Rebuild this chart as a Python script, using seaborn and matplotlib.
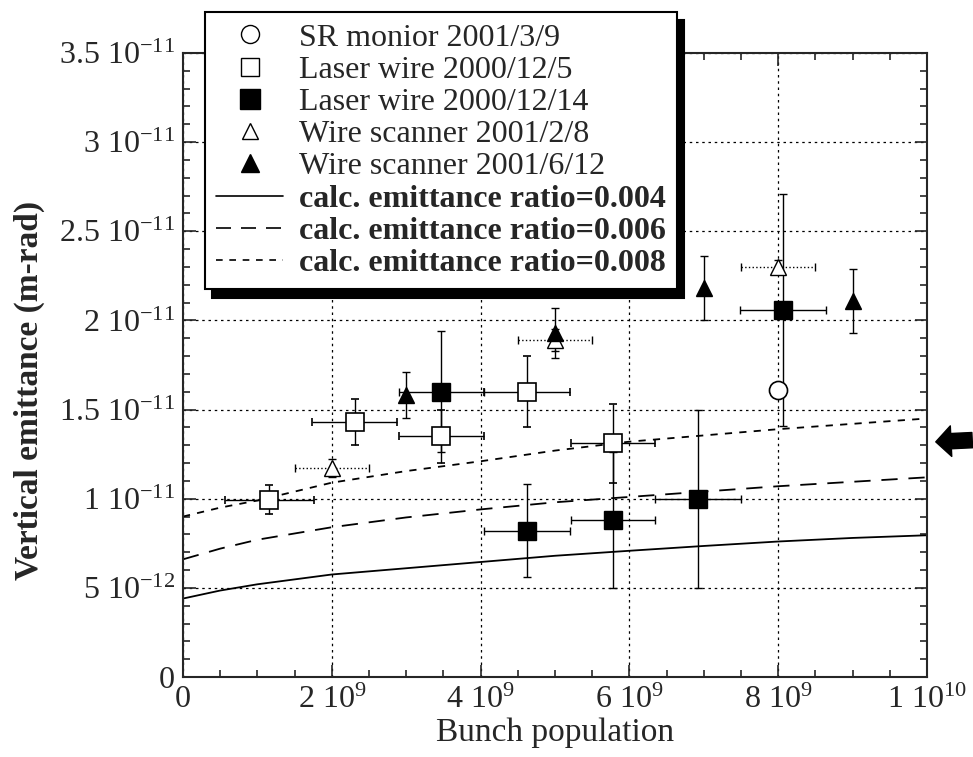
import numpy as np
import matplotlib
matplotlib.use('Agg')
import matplotlib.pyplot as plt
import seaborn as sns
import pandas as pd
from matplotlib.lines import Line2D
from matplotlib.ticker import MultipleLocator

# data (x in 1e9, y in 1e-12)
sr_x = [8.0]
sr_y = [16.1]

lw5_x = [1.16, 2.31, 3.47, 4.62, 5.78]
lw5_y = [9.95, 14.3, 13.5, 16.0, 13.1]
lw5_xerr = [0.6, 0.57, 0.57, 0.58, 0.57]
lw5_yerr = [0.8, 1.3, 1.5, 2.0, 2.2]

lw14_x = [3.47, 4.62, 5.78, 6.92, 8.06]
lw14_y = [16.0, 8.2, 8.8, 10.0, 20.6]
lw14_xerr = [0.57, 0.58, 0.57, 0.58, 0.58]
lw14_yerr = [3.4, 2.6, 3.8, 5.0, 6.5]

ws8_x = [2.0, 5.0, 8.0]
ws8_y = [11.7, 18.9, 23.0]
ws8_xerr = [0.5, 0.5, 0.5]
ws8_yerr = [0.5, 0.6, 0.4]

ws12_x = [3.0, 5.0, 7.0, 9.0]
ws12_y = [15.8, 19.3, 21.8, 21.1]
ws12_yerr = [1.3, 1.4, 1.8, 1.8]

calc_x = [0, 0.5, 1, 2, 3, 4, 5, 6, 7, 8, 9, 10]
calc_004 = [4.4, 4.85, 5.2, 5.75, 6.1, 6.45, 6.8, 7.08, 7.35, 7.6, 7.8, 7.95]
calc_006 = [6.6, 7.2, 7.7, 8.4, 8.95, 9.4, 9.8, 10.1, 10.4, 10.7, 10.95, 11.2]
calc_008 = [9.0, 9.5, 9.9, 10.9, 11.55, 12.1, 12.7, 13.2, 13.55, 13.9, 14.2, 14.5]

x_ticks = [0, 2e9, 4e9, 6e9, 8e9, 1e10]
x_labels = ['0', '2 10$^{9}$', '4 10$^{9}$', '6 10$^{9}$', '8 10$^{9}$', '1 10$^{10}$']
y_ticks = [0, 5e-12, 1e-11, 1.5e-11, 2e-11, 2.5e-11, 3e-11, 3.5e-11]
y_labels = ['0', '5 10$^{-12}$', '1 10$^{-11}$', '1.5 10$^{-11}$', '2 10$^{-11}$',
            '2.5 10$^{-11}$', '3 10$^{-11}$', '3.5 10$^{-11}$']

legend_labels = ['SR monior 2001/3/9', 'Laser wire 2000/12/5', 'Laser wire 2000/12/14',
                 'Wire scanner 2001/2/8', 'Wire scanner 2001/6/12',
                 'calc. emittance ratio=0.004', 'calc. emittance ratio=0.006',
                 'calc. emittance ratio=0.008']

sns.set_style('ticks')
plt.rcParams['font.family'] = ['Liberation Serif', 'DejaVu Serif']
plt.rcParams['mathtext.fontset'] = 'custom'
plt.rcParams['mathtext.rm'] = 'Liberation Serif'
plt.rcParams['mathtext.it'] = 'Liberation Serif'

fig = plt.figure(figsize=(9.73, 7.57), dpi=100)
ax = fig.add_axes([183 / 973, 1 - 677 / 757, (927 - 183) / 973, (677 - 53) / 757])

def sc(v, f):
    return np.array(v) * f

# calc curves
calc = pd.DataFrame({'x': sc(calc_x, 1e9), 'a': sc(calc_004, 1e-12),
                     'b': sc(calc_006, 1e-12), 'c': sc(calc_008, 1e-12)})
sns.lineplot(data=calc, x='x', y='a', ax=ax, color='black', lw=1.3)
sns.lineplot(data=calc, x='x', y='b', ax=ax, color='black', lw=1.3, linestyle=(0, (9, 6)))
sns.lineplot(data=calc, x='x', y='c', ax=ax, color='black', lw=1.3, linestyle=(0, (4, 4)))

eb = dict(ecolor='black', elinewidth=1.0, capsize=3, capthick=1.0, linestyle='none')

# wire scanner 2001/2/8 (dotted bars)
e = ax.errorbar(sc(ws8_x, 1e9), sc(ws8_y, 1e-12), xerr=sc(ws8_xerr, 1e9), yerr=sc(ws8_yerr, 1e-12),
                marker='^', ms=12, mfc='white', mec='black', mew=1.0, **eb)
for b in e[2]:
    b.set_linestyle(':')

ax.errorbar(sc(lw5_x, 1e9), sc(lw5_y, 1e-12), xerr=sc(lw5_xerr, 1e9), yerr=sc(lw5_yerr, 1e-12),
            marker='s', ms=13, mfc='white', mec='black', mew=1.2, **eb)
ax.errorbar(sc(lw14_x, 1e9), sc(lw14_y, 1e-12), xerr=sc(lw14_xerr, 1e9), yerr=sc(lw14_yerr, 1e-12),
            marker='s', ms=13, mfc='black', mec='black', **eb)
ax.errorbar(sc(ws12_x, 1e9), sc(ws12_y, 1e-12), yerr=sc(ws12_yerr, 1e-12),
            marker='^', ms=12, mfc='black', mec='black', **eb)
ax.errorbar(sc(sr_x, 1e9), sc(sr_y, 1e-12),
            marker='o', ms=13, mfc='white', mec='black', mew=1.2, **eb)

ax.set_xlim(0, 1e10)
ax.set_ylim(0, 3.5e-11)
ax.set_xticks(x_ticks)
ax.set_xticklabels(x_labels)
ax.set_yticks(y_ticks)
ax.set_yticklabels(y_labels)
ax.xaxis.set_minor_locator(MultipleLocator(5e8))
ax.yaxis.set_minor_locator(MultipleLocator(1e-12))
ax.tick_params(which='both', direction='in', top=True, right=True, width=1.2)
ax.tick_params(which='major', length=9, labelsize=23, pad=6)
ax.tick_params(which='minor', length=5)
ax.grid(True, which='major', color='black', linestyle=(0, (2, 3)), linewidth=0.9)
for s in ax.spines.values():
    s.set_linewidth(1.5)

ax.set_xlabel('Bunch population', fontsize=24, labelpad=2)
ax.set_ylabel('Vertical emittance (m-rad)', fontsize=24, fontweight='bold')
ax.yaxis.set_label_coords(-0.185, 0.46)

handles = [
    Line2D([], [], marker='o', ms=13, mfc='white', mec='black', ls='none'),
    Line2D([], [], marker='s', ms=13, mfc='white', mec='black', ls='none'),
    Line2D([], [], marker='s', ms=14, mfc='black', mec='black', ls='none'),
    Line2D([], [], marker='^', ms=11, mfc='white', mec='black', ls='none'),
    Line2D([], [], marker='^', ms=13, mfc='black', mec='black', ls='none'),
    Line2D([], [], color='black', lw=1.2),
    Line2D([], [], color='black', lw=1.2, ls=(0, (9, 6))),
    Line2D([], [], color='black', lw=1.2, ls=(0, (4, 4))),
]
leg = ax.legend(handles, legend_labels, loc='upper left',
                bbox_to_anchor=(205 / 973, 1 - 12 / 757), bbox_transform=fig.transFigure,
                fontsize=23, frameon=True, fancybox=False, edgecolor='black', framealpha=1,
                handlelength=2.1, handletextpad=0.5, labelspacing=0.09, borderpad=0.35,
                borderaxespad=0, shadow={'ox': 5, 'oy': -6, 'color': 'black', 'alpha': 1})
leg.get_frame().set_linewidth(1.5)
for t in leg.get_texts()[5:]:
    t.set_fontweight('bold')

# arrow pointing at the plot from the right
ax.annotate('', xy=(933 / 973, 1 - 442 / 757), xycoords='figure fraction',
            xytext=(975 / 973, 1 - 440 / 757), textcoords='figure fraction',
            arrowprops=dict(arrowstyle='simple,head_width=2.2,head_length=1.1,tail_width=1.1',
                            fc='black', ec='black'))

fig.savefig('out.png', dpi=100)
